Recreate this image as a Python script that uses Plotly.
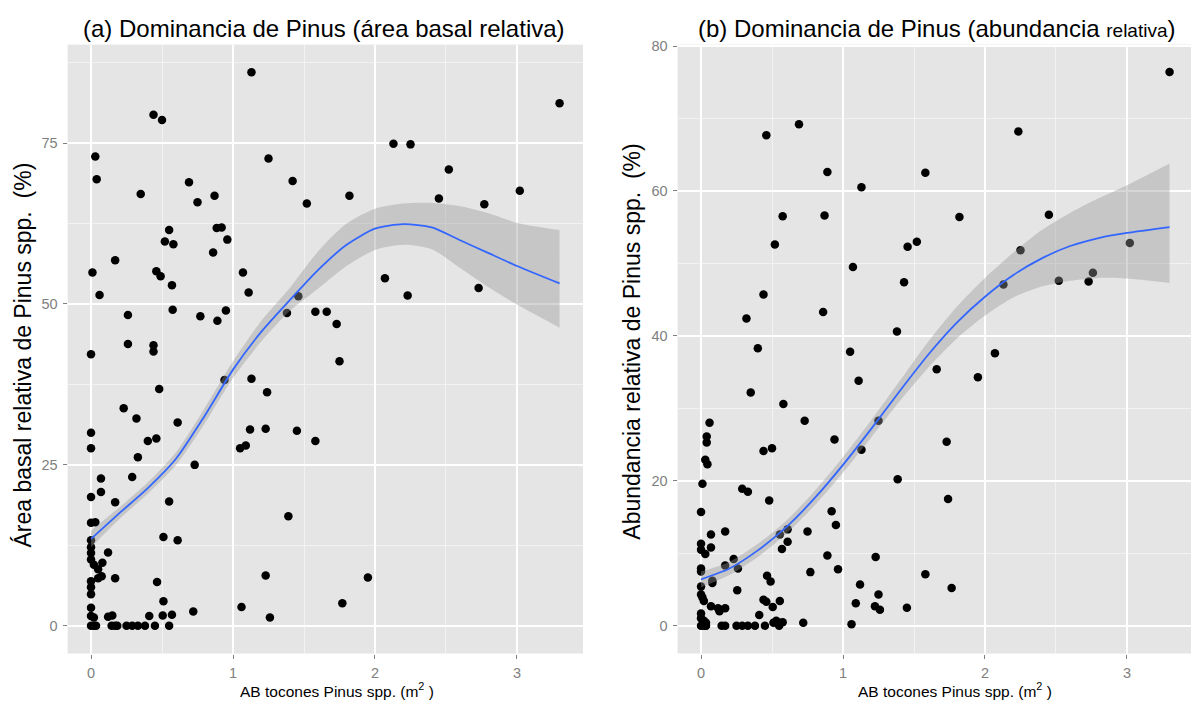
import plotly.graph_objects as go

# ---------------- Panel (a): relative basal area ----------------
a_x = [1.13, 0.44, 0.50, 0.03, 1.25, 0.04, 0.69, 1.42, 0.35, 0.87, 0.75, 1.52, 1.82,
       0.55, 0.885, 0.92, 0.52, 0.58, 0.96, 0.86, 0.17, 0.01, 0.46, 0.49, 1.07, 0.06,
       0.57, 1.11, 1.46, 0.26, 0.575, 0.77, 0.89, 0.95, 1.38, 1.58, 1.66, 1.73, 0.0,
       0.26, 0.44, 0.44, 1.75, 0.94, 1.13, 1.24, 0.48, 0.23, 0.32, 0.61, 0.0, 1.12,
       1.23, 1.45, 1.58, 0.40, 0.46, 0.0, 1.05, 1.09, 0.33, 0.73, 0.07, 0.29, 0.07,
       0.0, 0.17, 0.55, 1.39, 0.0, 0.03, 0.0, 0.51, 0.61, 0.0, 0.0, 0.0, 0.02, 0.05,
       0.12, 0.08, 0.05, 0.075, 0.17, 1.23, 0.0, 0.0, 0.0, 0.465, 0.51, 1.06, 1.77,
       0.0, 0.0, 0.02, 0.12, 0.15, 0.41, 0.505, 0.57, 0.72, 1.26,
       0.0, 0.02, 0.035, 0.145, 0.17, 0.185, 0.25, 0.29, 0.33, 0.38, 0.45, 0.55,
       1.95, 3.30, 2.13, 2.25, 2.52, 2.45, 3.02, 2.77, 2.07, 2.23, 2.73]
a_y = [86.0, 79.4, 78.6, 72.9, 72.6, 69.4, 68.9, 69.1, 67.1, 66.8, 65.8, 65.6, 66.8,
       61.5, 61.8, 61.9, 59.7, 59.3, 60.0, 58.0, 56.8, 54.9, 55.1, 54.3, 54.9, 51.4,
       52.9, 51.8, 51.2, 48.3, 49.1, 48.1, 47.4, 49.0, 48.6, 48.8, 48.8, 46.9, 42.2,
       43.8, 43.6, 42.6, 41.1, 38.2, 38.4, 36.3, 36.8, 33.8, 32.2, 31.6, 30.0, 30.5,
       30.6, 30.3, 28.7, 28.7, 29.1, 27.6, 27.6, 28.0, 26.2, 25.0, 22.9, 23.1, 20.8,
       20.0, 19.2, 19.3, 17.0, 16.0, 16.1, 13.3, 13.8, 13.3, 12.2, 11.3, 10.3, 9.5, 8.8,
       11.4, 9.8, 7.4, 7.7, 7.4, 7.8, 6.9, 6.0, 4.9, 6.8, 3.8, 2.9, 3.5,
       2.8, 1.5, 1.3, 1.4, 1.6, 1.5, 1.6, 1.7, 2.2, 1.3,
       0.0, 0.0, 0.0, 0.0, 0.0, 0.0, 0.0, 0.0, 0.0, 0.0, 0.0, 0.0,
       7.5, 81.2, 74.9, 74.8, 70.9, 66.4, 67.6, 65.5, 54.0, 51.3, 52.5]

smooth_x = [0, 0.2, 0.4, 0.6, 0.8, 1.0, 1.2, 1.4, 1.6, 1.8, 2.0, 2.2, 2.4, 2.6, 2.8, 3.0, 3.3]
a_smooth_y = [13.5, 17.5, 21.4, 26.0, 32.6, 39.8, 45.7, 50.6, 55.3, 59.2, 61.7, 62.4, 61.9, 59.9, 57.9, 55.9, 53.2]
a_lower = [12.2, 16.6, 20.5, 25.0, 31.4, 38.5, 44.2, 48.9, 52.4, 55.9, 58.4, 59.2, 58.5, 55.6, 52.6, 49.9, 46.3]
a_upper = [14.8, 18.4, 22.3, 27.0, 33.8, 41.1, 47.4, 52.5, 58.2, 62.5, 64.8, 65.6, 65.7, 65.2, 64.1, 62.6, 61.5]

# ---------------- Panel (b): relative abundance ----------------
b_x = [0.46, 0.69, 0.89, 1.58, 1.13, 0.575, 0.87, 0.52, 1.52, 1.455, 1.07, 1.43, 0.44,
       0.32, 0.86, 1.38, 0.40, 1.05, 1.66, 1.11, 0.35, 0.58, 0.73, 1.25, 0.06, 0.04,
       0.04, 0.94, 1.13, 1.73, 0.44, 0.50, 0.03, 0.045, 1.385, 0.01, 0.29, 0.33, 0.48,
       1.74, 0.0, 0.92, 0.95, 0.07, 0.17, 0.61, 0.555, 0.61, 0.57, 0.75, 0.0, 0.0,
       0.03, 0.07, 0.89, 1.23, 0.23, 0.17, 0.26, 0.0, 0.0, 0.08, 0.08, 0.77, 0.965,
       1.58, 0.465, 0.49, 0.255, 0.0, 0.0, 0.01, 0.02, 1.12, 1.25, 0.07, 0.12, 0.17,
       0.13, 0.44, 0.46, 0.555, 0.505, 0.41, 1.09, 1.225, 1.26, 1.45, 0.0, 0.0, 0.02,
       0.035, 0.03, 0.53, 0.555, 0.575, 0.51, 0.72, 1.06,
       0.0, 0.02, 0.035, 0.145, 0.17, 0.25, 0.29, 0.33, 0.38, 0.45, 0.55,
       3.30, 2.235, 1.82, 2.45, 2.25, 3.02, 2.76, 2.52, 2.73, 2.13, 2.07, 1.95, 1.765]
b_y = [67.7, 69.2, 62.6, 62.5, 60.5, 56.5, 56.6, 52.6, 53.0, 52.3, 49.5, 47.4, 45.7,
       42.4, 43.3, 40.6, 38.3, 37.8, 35.4, 33.8, 32.2, 30.6, 28.3, 28.3, 28.0, 26.1,
       25.3, 25.7, 24.3, 25.4, 24.1, 24.5, 22.9, 22.3, 20.2, 19.6, 18.9, 18.5, 17.3,
       17.5, 15.7, 15.8, 13.9, 12.6, 13.0, 13.3, 12.6, 11.6, 10.6, 13.0, 11.3, 10.5,
       9.9, 10.8, 9.7, 9.5, 9.2, 8.3, 7.9, 7.9, 7.5, 6.2, 5.9, 7.4, 7.8,
       7.1, 6.9, 6.1, 4.9, 5.4, 4.3, 3.9, 3.4, 5.7, 4.3, 2.7, 2.4, 2.4,
       2.0, 3.6, 3.3, 3.4, 2.6, 1.5, 3.1, 2.7, 2.2, 2.5, 1.7, 1.05, 0.7,
       0.4, 0.0, 0.7, 0.4, 0.5, 0.4, 0.4, 0.2,
       0.0, 0.0, 0.0, 0.0, 0.0, 0.0, 0.0, 0.0, 0.0, 0.0, 0.0,
       76.4, 68.2, 56.4, 56.7, 51.8, 52.8, 48.7, 47.6, 47.5, 47.1, 37.6, 34.3, 5.2]

b_smooth_y = [6.4, 7.9, 10.4, 13.6, 17.6, 22.2, 27.2, 32.4, 37.4, 41.8, 45.4, 48.4, 50.7, 52.4, 53.5, 54.2, 55.0]
b_lower = [5.3, 7.0, 9.5, 12.7, 16.6, 21.1, 26.0, 31.0, 35.6, 39.6, 42.8, 45.3, 46.8, 47.6, 48.0, 47.9, 47.3]
b_upper = [7.5, 8.8, 11.3, 14.5, 18.6, 23.3, 28.4, 33.8, 39.2, 44.0, 48.0, 51.5, 54.6, 57.0, 59.0, 60.8, 63.8]

x_ticks = [0, 1, 2, 3]
a_y_ticks = [0, 25, 50, 75]
b_y_ticks = [0, 20, 40, 60, 80]

FONT = "Liberation Sans"
BG = "#E5E5E5"
TICK_COL = "#7F7F7F"
RIBBON = "rgba(153,153,153,0.4)"
LINE = "#3366FF"

fig = go.Figure()


def add_panel(xs, ys, sx, sy, lo, hi, xa, ya):
    fig.add_trace(go.Scatter(x=xs, y=ys, mode="markers", xaxis=xa, yaxis=ya,
                             marker=dict(color="black", size=8.5, line=dict(width=0)),
                             showlegend=False, hoverinfo="skip"))
    fig.add_trace(go.Scatter(x=sx, y=lo, mode="lines", xaxis=xa, yaxis=ya,
                             line=dict(width=0, shape="spline", smoothing=0.7),
                             showlegend=False, hoverinfo="skip"))
    fig.add_trace(go.Scatter(x=sx, y=hi, mode="lines", xaxis=xa, yaxis=ya,
                             fill="tonexty", fillcolor=RIBBON,
                             line=dict(width=0, shape="spline", smoothing=0.7),
                             showlegend=False, hoverinfo="skip"))
    fig.add_trace(go.Scatter(x=sx, y=sy, mode="lines", xaxis=xa, yaxis=ya,
                             line=dict(color=LINE, width=1.8, shape="spline", smoothing=0.7),
                             showlegend=False, hoverinfo="skip"))


add_panel(a_x, a_y, smooth_x, a_smooth_y, a_lower, a_upper, "x", "y")
add_panel(b_x, b_y, smooth_x, b_smooth_y, b_lower, b_upper, "x2", "y2")

W, H = 1191, 704
top_px, bot_px = 38, 653
yd = [1 - bot_px / H, 1 - top_px / H]

axis_common = dict(showline=False, zeroline=False, ticks="outside", ticklen=4,
                   tickwidth=1, tickcolor=TICK_COL, gridcolor="white", gridwidth=1.6,
                   tickfont=dict(family=FONT, size=14.5, color=TICK_COL),
                   ticklabelstandoff=2, fixedrange=True)

minor_common = dict(showgrid=True, gridcolor="#F2F2F2", gridwidth=0.8, ticks="")

fig.update_layout(
    width=W, height=H, autosize=False,
    margin=dict(l=0, r=0, t=0, b=0),
    paper_bgcolor="white", plot_bgcolor=BG,
    xaxis=dict(domain=[67.6 / W, 583 / W], range=[-0.165, 3.465], tickvals=x_ticks,
               anchor="y", minor=dict(dtick=0.5, tick0=0, **minor_common), **axis_common),
    yaxis=dict(domain=yd, range=[-4.31, 90.3], tickvals=a_y_ticks, anchor="x",
               minor=dict(dtick=12.5, tick0=0, **minor_common), **axis_common),
    xaxis2=dict(domain=[677.6 / W, 1.0], range=[-0.165, 3.451], tickvals=x_ticks,
                anchor="y2", minor=dict(dtick=0.5, tick0=0, **minor_common), **axis_common),
    yaxis2=dict(domain=yd, range=[-3.83, 80.19], tickvals=b_y_ticks, anchor="x2",
                minor=dict(dtick=10, tick0=0, **minor_common), **axis_common),
)

# Titles and axis titles
ann = [
    dict(text="(a) Dominancia de Pinus (área basal relativa)", x=324 / W, y=1 - 22 / H,
         font=dict(family=FONT, size=24, color="black")),
    dict(text="(b) Dominancia de Pinus (abundancia <span style='font-size:19px'>relativa</span>)",
         x=936 / W, y=1 - 22 / H, font=dict(family=FONT, size=24, color="black")),
    dict(text="AB tocones Pinus spp. (m<sup>2</sup> )", x=337 / W, y=1 - 690 / H,
         font=dict(family=FONT, size=15.5, color="black")),
    dict(text="AB tocones Pinus spp. (m<sup>2</sup> )", x=955 / W, y=1 - 690 / H,
         font=dict(family=FONT, size=15.5, color="black")),
    dict(text="Área basal relativa de Pinus spp.  (%)", x=22 / W, y=1 - 352 / H,
         textangle=-90, font=dict(family=FONT, size=23, color="black")),
    dict(text="Abundancia relativa de Pinus spp.  (%)", x=632 / W, y=1 - 338 / H,
         textangle=-90, font=dict(family=FONT, size=23, color="black")),
]
for a in ann:
    a.update(xref="paper", yref="paper", showarrow=False, xanchor="center", yanchor="middle")
fig.update_layout(annotations=ann)

fig.write_html("out.html", config={"displayModeBar": False},
               post_script="document.body.style.margin='0';document.body.style.overflow='hidden';")
